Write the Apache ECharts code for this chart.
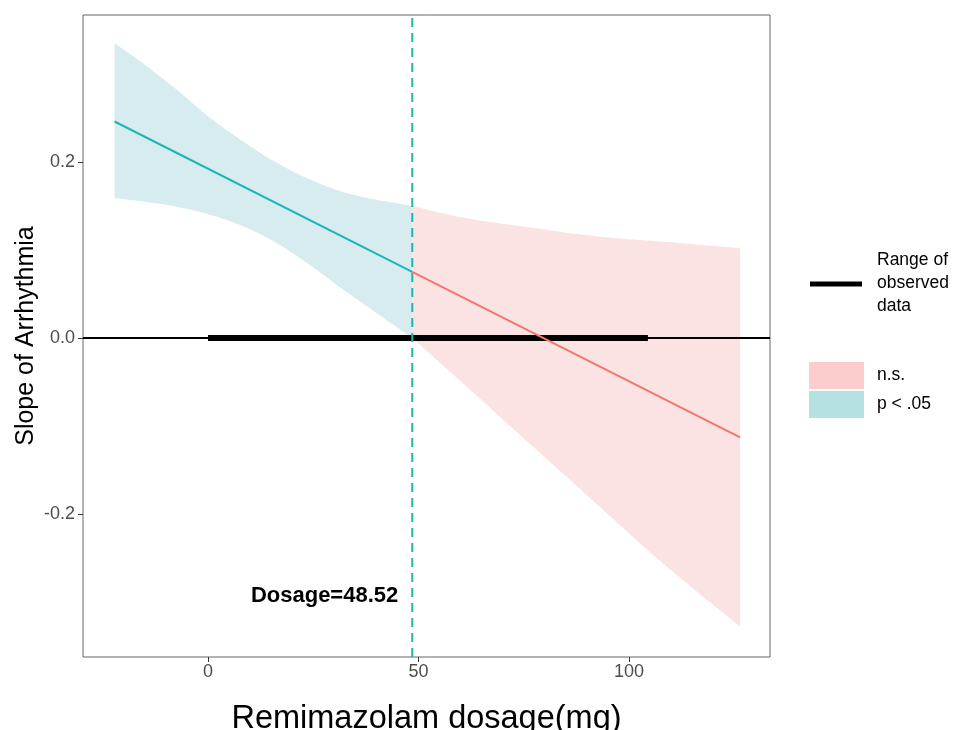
<!DOCTYPE html>
<html>
<head>
<meta charset="utf-8">
<script src="https://cdn.jsdelivr.net/npm/echarts@6/dist/echarts.min.js"></script>
<style>
  html, body { margin: 0; padding: 0; background: #fff; }
  #chart { width: 964px; height: 730px; }
</style>
</head>
<body>
<div id="chart"></div>
<script>
// confidence band, significant part (p < .05)
const sigX = [-22.2, -15.4, -7.4, 0.5, 8.4, 16.3, 24.2, 32.1, 40.1, 48.52]
const sigUpper = [0.335, 0.312, 0.282, 0.250, 0.223, 0.199, 0.180, 0.166, 0.157, 0.150]
const sigLower = [0.159, 0.155, 0.149, 0.140, 0.127, 0.108, 0.083, 0.055, 0.028, 0.0]

// confidence band, n.s. part
const nsX = [48.52, 61.4, 77.3, 93.1, 109, 126.4]
const nsUpper = [0.150, 0.136, 0.125, 0.115, 0.109, 0.102]
const nsLower = [0.0, -0.055, -0.124, -0.192, -0.260, -0.328]

// simple slope line
const slopeSigX = [-22.2, 48.52]
const slopeSigY = [0.246, 0.075]
const slopeNsX = [48.52, 126.4]
const slopeNsY = [0.075, -0.113]

// range of observed data
const rangeX = [0, 104.5]
const jnPoint = 48.52

const xTicks = [0, 50, 100]
const yTicks = [-0.2, 0.0, 0.2]

const TEAL = '#1cb6b8'
const RED = '#f1776c'
const TEAL_FILL = '#d6ecef'
const PINK_FILL = '#fbe3e4'

const font = 'Liberation Sans, Arial, Helvetica, sans-serif'

function pairs(xs, ys) {
  return xs.map((x, i) => [x, ys[i]])
}

// catmull-rom through the given pixel points, as bezier path commands
function spline(pts) {
  let d = ''
  for (let i = 0; i < pts.length - 1; i++) {
    const p0 = pts[Math.max(i - 1, 0)]
    const p1 = pts[i]
    const p2 = pts[i + 1]
    const p3 = pts[Math.min(i + 2, pts.length - 1)]
    const c1 = [p1[0] + (p2[0] - p0[0]) / 6, p1[1] + (p2[1] - p0[1]) / 6]
    const c2 = [p2[0] - (p3[0] - p1[0]) / 6, p2[1] - (p3[1] - p1[1]) / 6]
    d += ` C${c1[0]},${c1[1]} ${c2[0]},${c2[1]} ${p2[0]},${p2[1]}`
  }
  return d
}

function bandSeries(xs, lo, hi, color) {
  const data = xs.map((x, i) => [x, lo[i], hi[i]])
  return {
    type: 'custom',
    silent: true,
    z: 1,
    encode: { x: 0, y: [1, 2] },
    data,
    renderItem(params, api) {
      if (params.dataIndex !== 0) return
      const top = data.map(d => api.coord([d[0], d[2]]))
      const bottom = data.map(d => api.coord([d[0], d[1]])).reverse()
      const path = `M${top[0][0]},${top[0][1]}` + spline(top) +
        ` L${bottom[0][0]},${bottom[0][1]}` + spline(bottom) + ' Z'
      return {
        type: 'path',
        shape: { pathData: path },
        style: { fill: color, stroke: null }
      }
    }
  }
}

const chart = echarts.init(document.getElementById('chart'))

chart.setOption({
  animation: false,
  textStyle: { fontFamily: font },
  grid: {
    left: 83, right: 194, top: 15, bottom: 73,
    outerBoundsMode: 'none',
    containLabel: false,
    show: true, borderColor: '#666', borderWidth: 1, backgroundColor: 'transparent'
  },
  xAxis: {
    type: 'value',
    min: -29.7,
    max: 133.5,
    splitLine: { show: false },
    axisLine: { show: false, onZero: false },
    axisTick: { show: true, length: 5, lineStyle: { color: '#333' }, customValues: xTicks },
    axisLabel: { color: '#4d4d4d', fontSize: 18, margin: 6, customValues: xTicks },
    name: 'Remimazolam dosage(mg)',
    nameLocation: 'middle',
    nameGap: 46,
    nameMoveOverlap: false,
    nameTextStyle: { color: '#000', fontSize: 32.5, fontFamily: font }
  },
  yAxis: {
    type: 'value',
    min: -0.3625,
    max: 0.367,
    splitLine: { show: false },
    axisLine: { show: false, onZero: false },
    axisTick: { show: true, length: 5, lineStyle: { color: '#333' }, customValues: yTicks },
    axisLabel: {
      color: '#4d4d4d', fontSize: 18, margin: 8, customValues: yTicks,
      formatter: v => v.toFixed(1)
    },
    name: 'Slope of Arrhythmia',
    nameLocation: 'middle',
    nameGap: 44,
    nameMoveOverlap: false,
    nameTextStyle: { color: '#000', fontSize: 25, fontFamily: font }
  },
  series: [
    bandSeries(sigX, sigLower, sigUpper, TEAL_FILL),
    bandSeries(nsX, nsLower, nsUpper, PINK_FILL),
    {
      type: 'line',
      data: [[-29.7, 0], [133.5, 0]],
      symbol: 'none',
      silent: true,
      z: 3,
      lineStyle: { color: '#000', width: 2 }
    },
    {
      type: 'line',
      data: rangeX.map(x => [x, 0]),
      symbol: 'none',
      silent: true,
      z: 4,
      lineStyle: { color: '#000', width: 6 }
    },
    {
      type: 'line',
      data: pairs(slopeSigX, slopeSigY),
      symbol: 'none',
      silent: true,
      z: 5,
      lineStyle: { color: TEAL, width: 2 }
    },
    {
      type: 'line',
      data: pairs(slopeNsX, slopeNsY),
      symbol: 'none',
      silent: true,
      z: 5,
      lineStyle: { color: RED, width: 2 }
    },
    {
      type: 'line',
      data: [[jnPoint, -0.3625], [jnPoint, 0.367]],
      symbol: 'none',
      silent: true,
      z: 6,
      lineStyle: { color: TEAL, width: 2, type: [9, 6] }
    },
    {
      type: 'scatter',
      data: [[jnPoint, -0.293]],
      symbolSize: 0,
      silent: true,
      z: 7,
      itemStyle: { opacity: 1 },
      label: {
        show: true,
        position: 'left',
        distance: 14,
        formatter: 'Dosage=' + jnPoint,
        color: '#000',
        opacity: 1,
        fontSize: 22,
        fontWeight: 'bold',
        fontFamily: font
      }
    }
  ],
  graphic: [
    { type: 'line', shape: { x1: 810, y1: 284, x2: 862, y2: 284 }, style: { stroke: '#000', lineWidth: 5 } },
    { type: 'text', left: 877, top: 249, style: { text: 'Range of\nobserved\ndata', fill: '#000', font: '17.5px ' + font, lineHeight: 23 } },
    { type: 'rect', shape: { x: 809, y: 362, width: 55, height: 27 }, style: { fill: '#fbcdcd' } },
    { type: 'rect', shape: { x: 809, y: 391, width: 55, height: 27 }, style: { fill: '#b6e1e3' } },
    { type: 'text', left: 877, top: 366, style: { text: 'n.s.', fill: '#000', font: '17.5px ' + font } },
    { type: 'text', left: 877, top: 395, style: { text: 'p < .05', fill: '#000', font: '17.5px ' + font } }
  ]
})
</script>
</body>
</html>
